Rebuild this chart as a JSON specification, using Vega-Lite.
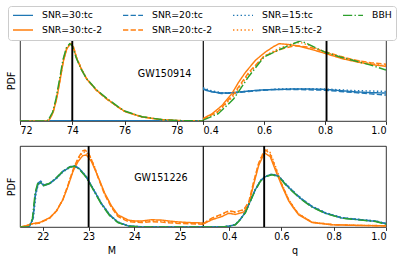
{
"$schema": "https://vega.github.io/schema/vega-lite/v6.json",
"padding": {"left": 6, "top": 5, "right": 5, "bottom": 5},
"config": {
  "font": "DejaVu Sans",
  "view": {"stroke": "black", "strokeWidth": 0.8},
  "axis": {"domain": false, "grid": false, "tickColor": "black", "tickSize": 3.4, "tickWidth": 0.8, "labelFontSize": 9.6, "labelColor": "black", "labelPadding": 1.5, "titleFontSize": 9.6, "titleFontWeight": "normal", "titleColor": "black", "titlePadding": 3.5, "labelFont": "DejaVu Sans", "titleFont": "DejaVu Sans"},
  "legend": {"orient": "none", "legendX": -12, "legendY": -34, "direction": "vertical", "columns": 4, "symbolType": "stroke", "symbolSize": 400, "clipHeight": 10, "symbolStrokeWidth": 1.44, "labelFontSize": 9.3, "labelFont": "DejaVu Sans", "labelColor": "black", "labelOffset": 8, "columnPadding": 19, "rowPadding": 4, "padding": 4, "strokeColor": "#cccccc", "fillColor": "white", "cornerRadius": 3}
},
"datasets": {
"vlines": [{"p":"tl","v":74.0},{"p":"tr","v":0.805},{"p":"bl","v":23.0},{"p":"br","v":0.534}],
"labels": [{"p":"tl","x":77.53,"y":0.58,"t":"GW150914"},{"p":"bl","x":24.58,"y":0.6,"t":"GW151226"}],
"curves": [
{"p":"tl","s":"SNR=30:tc","x":72,"y":0.004},{"p":"tl","s":"SNR=30:tc","x":79,"y":0.004},
{"p":"tl","s":"SNR=30:tc-2","x":72,"y":0},{"p":"tl","s":"SNR=30:tc-2","x":73,"y":0},{"p":"tl","s":"SNR=30:tc-2","x":73.1,"y":0.01},{"p":"tl","s":"SNR=30:tc-2","x":73.2,"y":0.06},{"p":"tl","s":"SNR=30:tc-2","x":73.27,"y":0.11},{"p":"tl","s":"SNR=30:tc-2","x":73.4,"y":0.27},{"p":"tl","s":"SNR=30:tc-2","x":73.53,"y":0.5},{"p":"tl","s":"SNR=30:tc-2","x":73.66,"y":0.74},{"p":"tl","s":"SNR=30:tc-2","x":73.79,"y":0.89},{"p":"tl","s":"SNR=30:tc-2","x":73.92,"y":0.95},{"p":"tl","s":"SNR=30:tc-2","x":73.97,"y":0.955},{"p":"tl","s":"SNR=30:tc-2","x":74.04,"y":0.91},{"p":"tl","s":"SNR=30:tc-2","x":74.17,"y":0.77},{"p":"tl","s":"SNR=30:tc-2","x":74.36,"y":0.63},{"p":"tl","s":"SNR=30:tc-2","x":74.55,"y":0.52},{"p":"tl","s":"SNR=30:tc-2","x":74.93,"y":0.38},{"p":"tl","s":"SNR=30:tc-2","x":75.32,"y":0.275},{"p":"tl","s":"SNR=30:tc-2","x":75.76,"y":0.17},{"p":"tl","s":"SNR=30:tc-2","x":76.03,"y":0.115},{"p":"tl","s":"SNR=30:tc-2","x":76.67,"y":0.05},{"p":"tl","s":"SNR=30:tc-2","x":77.42,"y":0.016},{"p":"tl","s":"SNR=30:tc-2","x":78,"y":0.005},{"p":"tl","s":"SNR=30:tc-2","x":79,"y":0},
{"p":"tl","s":"SNR=20:tc","x":72,"y":0.003},{"p":"tl","s":"SNR=20:tc","x":79,"y":0.003},
{"p":"tl","s":"SNR=20:tc-2","x":72,"y":0},{"p":"tl","s":"SNR=20:tc-2","x":73.02,"y":0},{"p":"tl","s":"SNR=20:tc-2","x":73.12,"y":0.015},{"p":"tl","s":"SNR=20:tc-2","x":73.27,"y":0.115},{"p":"tl","s":"SNR=20:tc-2","x":73.4,"y":0.28},{"p":"tl","s":"SNR=20:tc-2","x":73.53,"y":0.51},{"p":"tl","s":"SNR=20:tc-2","x":73.66,"y":0.75},{"p":"tl","s":"SNR=20:tc-2","x":73.79,"y":0.9},{"p":"tl","s":"SNR=20:tc-2","x":73.92,"y":0.955},{"p":"tl","s":"SNR=20:tc-2","x":74.04,"y":0.915},{"p":"tl","s":"SNR=20:tc-2","x":74.17,"y":0.775},{"p":"tl","s":"SNR=20:tc-2","x":74.36,"y":0.635},{"p":"tl","s":"SNR=20:tc-2","x":74.55,"y":0.52},{"p":"tl","s":"SNR=20:tc-2","x":74.93,"y":0.375},{"p":"tl","s":"SNR=20:tc-2","x":75.32,"y":0.27},{"p":"tl","s":"SNR=20:tc-2","x":75.76,"y":0.17},{"p":"tl","s":"SNR=20:tc-2","x":76.03,"y":0.115},{"p":"tl","s":"SNR=20:tc-2","x":76.67,"y":0.052},{"p":"tl","s":"SNR=20:tc-2","x":77.42,"y":0.017},{"p":"tl","s":"SNR=20:tc-2","x":78,"y":0.006},{"p":"tl","s":"SNR=20:tc-2","x":79,"y":0},
{"p":"tl","s":"SNR=15:tc","x":72,"y":0.005},{"p":"tl","s":"SNR=15:tc","x":79,"y":0.005},
{"p":"tl","s":"SNR=15:tc-2","x":72,"y":0},{"p":"tl","s":"SNR=15:tc-2","x":73.01,"y":0},{"p":"tl","s":"SNR=15:tc-2","x":73.11,"y":0.012},{"p":"tl","s":"SNR=15:tc-2","x":73.26,"y":0.11},{"p":"tl","s":"SNR=15:tc-2","x":73.39,"y":0.275},{"p":"tl","s":"SNR=15:tc-2","x":73.52,"y":0.5},{"p":"tl","s":"SNR=15:tc-2","x":73.65,"y":0.75},{"p":"tl","s":"SNR=15:tc-2","x":73.78,"y":0.9},{"p":"tl","s":"SNR=15:tc-2","x":73.93,"y":0.96},{"p":"tl","s":"SNR=15:tc-2","x":74.04,"y":0.92},{"p":"tl","s":"SNR=15:tc-2","x":74.17,"y":0.78},{"p":"tl","s":"SNR=15:tc-2","x":74.36,"y":0.64},{"p":"tl","s":"SNR=15:tc-2","x":74.55,"y":0.525},{"p":"tl","s":"SNR=15:tc-2","x":74.93,"y":0.38},{"p":"tl","s":"SNR=15:tc-2","x":75.32,"y":0.272},{"p":"tl","s":"SNR=15:tc-2","x":75.76,"y":0.168},{"p":"tl","s":"SNR=15:tc-2","x":76.03,"y":0.113},{"p":"tl","s":"SNR=15:tc-2","x":76.67,"y":0.05},{"p":"tl","s":"SNR=15:tc-2","x":77.42,"y":0.016},{"p":"tl","s":"SNR=15:tc-2","x":78,"y":0.005},{"p":"tl","s":"SNR=15:tc-2","x":79,"y":0},
{"p":"tl","s":"BBH","x":72,"y":0},{"p":"tl","s":"BBH","x":73,"y":0},{"p":"tl","s":"BBH","x":73.08,"y":0.01},{"p":"tl","s":"BBH","x":73.25,"y":0.11},{"p":"tl","s":"BBH","x":73.38,"y":0.28},{"p":"tl","s":"BBH","x":73.51,"y":0.51},{"p":"tl","s":"BBH","x":73.64,"y":0.75},{"p":"tl","s":"BBH","x":73.77,"y":0.9},{"p":"tl","s":"BBH","x":73.9,"y":0.955},{"p":"tl","s":"BBH","x":74.0,"y":0.93},{"p":"tl","s":"BBH","x":74.15,"y":0.78},{"p":"tl","s":"BBH","x":74.34,"y":0.64},{"p":"tl","s":"BBH","x":74.55,"y":0.52},{"p":"tl","s":"BBH","x":74.93,"y":0.385},{"p":"tl","s":"BBH","x":75.32,"y":0.28},{"p":"tl","s":"BBH","x":75.76,"y":0.175},{"p":"tl","s":"BBH","x":76.03,"y":0.12},{"p":"tl","s":"BBH","x":76.67,"y":0.052},{"p":"tl","s":"BBH","x":77.42,"y":0.018},{"p":"tl","s":"BBH","x":78,"y":0.006},{"p":"tl","s":"BBH","x":79,"y":0},

{"p":"tr","s":"SNR=30:tc","x":0.4,"y":0.39},{"p":"tr","s":"SNR=30:tc","x":0.43,"y":0.36},{"p":"tr","s":"SNR=30:tc","x":0.46,"y":0.345},{"p":"tr","s":"SNR=30:tc","x":0.5,"y":0.35},{"p":"tr","s":"SNR=30:tc","x":0.55,"y":0.37},{"p":"tr","s":"SNR=30:tc","x":0.6,"y":0.385},{"p":"tr","s":"SNR=30:tc","x":0.65,"y":0.39},{"p":"tr","s":"SNR=30:tc","x":0.7,"y":0.395},{"p":"tr","s":"SNR=30:tc","x":0.75,"y":0.395},{"p":"tr","s":"SNR=30:tc","x":0.8,"y":0.39},{"p":"tr","s":"SNR=30:tc","x":0.85,"y":0.375},{"p":"tr","s":"SNR=30:tc","x":0.9,"y":0.36},{"p":"tr","s":"SNR=30:tc","x":0.95,"y":0.35},{"p":"tr","s":"SNR=30:tc","x":1.0,"y":0.345},
{"p":"tr","s":"SNR=30:tc-2","x":0.4,"y":0.03},{"p":"tr","s":"SNR=30:tc-2","x":0.43,"y":0.09},{"p":"tr","s":"SNR=30:tc-2","x":0.462,"y":0.19},{"p":"tr","s":"SNR=30:tc-2","x":0.495,"y":0.34},{"p":"tr","s":"SNR=30:tc-2","x":0.517,"y":0.48},{"p":"tr","s":"SNR=30:tc-2","x":0.539,"y":0.6},{"p":"tr","s":"SNR=30:tc-2","x":0.572,"y":0.75},{"p":"tr","s":"SNR=30:tc-2","x":0.604,"y":0.85},{"p":"tr","s":"SNR=30:tc-2","x":0.632,"y":0.92},{"p":"tr","s":"SNR=30:tc-2","x":0.65,"y":0.955},{"p":"tr","s":"SNR=30:tc-2","x":0.68,"y":0.945},{"p":"tr","s":"SNR=30:tc-2","x":0.714,"y":0.925},{"p":"tr","s":"SNR=30:tc-2","x":0.75,"y":0.89},{"p":"tr","s":"SNR=30:tc-2","x":0.8,"y":0.835},{"p":"tr","s":"SNR=30:tc-2","x":0.856,"y":0.77},{"p":"tr","s":"SNR=30:tc-2","x":0.91,"y":0.725},{"p":"tr","s":"SNR=30:tc-2","x":0.965,"y":0.69},{"p":"tr","s":"SNR=30:tc-2","x":1.0,"y":0.675},
{"p":"tr","s":"SNR=20:tc","x":0.4,"y":0.4},{"p":"tr","s":"SNR=20:tc","x":0.43,"y":0.36},{"p":"tr","s":"SNR=20:tc","x":0.46,"y":0.34},{"p":"tr","s":"SNR=20:tc","x":0.5,"y":0.345},{"p":"tr","s":"SNR=20:tc","x":0.55,"y":0.365},{"p":"tr","s":"SNR=20:tc","x":0.6,"y":0.38},{"p":"tr","s":"SNR=20:tc","x":0.65,"y":0.39},{"p":"tr","s":"SNR=20:tc","x":0.7,"y":0.39},{"p":"tr","s":"SNR=20:tc","x":0.75,"y":0.385},{"p":"tr","s":"SNR=20:tc","x":0.8,"y":0.38},{"p":"tr","s":"SNR=20:tc","x":0.85,"y":0.365},{"p":"tr","s":"SNR=20:tc","x":0.9,"y":0.35},{"p":"tr","s":"SNR=20:tc","x":0.95,"y":0.335},{"p":"tr","s":"SNR=20:tc","x":1.0,"y":0.32},
{"p":"tr","s":"SNR=20:tc-2","x":0.4,"y":0.02},{"p":"tr","s":"SNR=20:tc-2","x":0.45,"y":0.12},{"p":"tr","s":"SNR=20:tc-2","x":0.5,"y":0.33},{"p":"tr","s":"SNR=20:tc-2","x":0.55,"y":0.6},{"p":"tr","s":"SNR=20:tc-2","x":0.6,"y":0.8},{"p":"tr","s":"SNR=20:tc-2","x":0.65,"y":0.88},{"p":"tr","s":"SNR=20:tc-2","x":0.7,"y":0.93},{"p":"tr","s":"SNR=20:tc-2","x":0.75,"y":0.91},{"p":"tr","s":"SNR=20:tc-2","x":0.8,"y":0.855},{"p":"tr","s":"SNR=20:tc-2","x":0.85,"y":0.8},{"p":"tr","s":"SNR=20:tc-2","x":0.9,"y":0.75},{"p":"tr","s":"SNR=20:tc-2","x":0.95,"y":0.72},{"p":"tr","s":"SNR=20:tc-2","x":1.0,"y":0.7},
{"p":"tr","s":"SNR=15:tc","x":0.4,"y":0.41},{"p":"tr","s":"SNR=15:tc","x":0.43,"y":0.37},{"p":"tr","s":"SNR=15:tc","x":0.46,"y":0.35},{"p":"tr","s":"SNR=15:tc","x":0.5,"y":0.35},{"p":"tr","s":"SNR=15:tc","x":0.55,"y":0.37},{"p":"tr","s":"SNR=15:tc","x":0.6,"y":0.385},{"p":"tr","s":"SNR=15:tc","x":0.65,"y":0.395},{"p":"tr","s":"SNR=15:tc","x":0.7,"y":0.4},{"p":"tr","s":"SNR=15:tc","x":0.75,"y":0.4},{"p":"tr","s":"SNR=15:tc","x":0.8,"y":0.395},{"p":"tr","s":"SNR=15:tc","x":0.85,"y":0.385},{"p":"tr","s":"SNR=15:tc","x":0.9,"y":0.375},{"p":"tr","s":"SNR=15:tc","x":0.95,"y":0.37},{"p":"tr","s":"SNR=15:tc","x":1.0,"y":0.365},
{"p":"tr","s":"SNR=15:tc-2","x":0.4,"y":0.02},{"p":"tr","s":"SNR=15:tc-2","x":0.45,"y":0.11},{"p":"tr","s":"SNR=15:tc-2","x":0.5,"y":0.31},{"p":"tr","s":"SNR=15:tc-2","x":0.55,"y":0.58},{"p":"tr","s":"SNR=15:tc-2","x":0.6,"y":0.8},{"p":"tr","s":"SNR=15:tc-2","x":0.65,"y":0.9},{"p":"tr","s":"SNR=15:tc-2","x":0.7,"y":0.96},{"p":"tr","s":"SNR=15:tc-2","x":0.72,"y":0.97},{"p":"tr","s":"SNR=15:tc-2","x":0.75,"y":0.93},{"p":"tr","s":"SNR=15:tc-2","x":0.8,"y":0.85},{"p":"tr","s":"SNR=15:tc-2","x":0.85,"y":0.79},{"p":"tr","s":"SNR=15:tc-2","x":0.9,"y":0.75},{"p":"tr","s":"SNR=15:tc-2","x":0.95,"y":0.71},{"p":"tr","s":"SNR=15:tc-2","x":1.0,"y":0.68},
{"p":"tr","s":"BBH","x":0.4,"y":0.01},{"p":"tr","s":"BBH","x":0.45,"y":0.09},{"p":"tr","s":"BBH","x":0.5,"y":0.27},{"p":"tr","s":"BBH","x":0.55,"y":0.55},{"p":"tr","s":"BBH","x":0.6,"y":0.79},{"p":"tr","s":"BBH","x":0.65,"y":0.88},{"p":"tr","s":"BBH","x":0.7,"y":0.96},{"p":"tr","s":"BBH","x":0.72,"y":0.99},{"p":"tr","s":"BBH","x":0.75,"y":0.94},{"p":"tr","s":"BBH","x":0.8,"y":0.85},{"p":"tr","s":"BBH","x":0.85,"y":0.79},{"p":"tr","s":"BBH","x":0.9,"y":0.74},{"p":"tr","s":"BBH","x":0.95,"y":0.69},{"p":"tr","s":"BBH","x":1.0,"y":0.63},

{"p":"bl","s":"SNR=30:tc","x":21.5,"y":0},{"p":"bl","s":"SNR=30:tc","x":21.7,"y":0},{"p":"bl","s":"SNR=30:tc","x":21.78,"y":0.1},{"p":"bl","s":"SNR=30:tc","x":21.84,"y":0.41},{"p":"bl","s":"SNR=30:tc","x":21.89,"y":0.52},{"p":"bl","s":"SNR=30:tc","x":21.95,"y":0.55},{"p":"bl","s":"SNR=30:tc","x":22.02,"y":0.51},{"p":"bl","s":"SNR=30:tc","x":22.15,"y":0.535},{"p":"bl","s":"SNR=30:tc","x":22.3,"y":0.605},{"p":"bl","s":"SNR=30:tc","x":22.44,"y":0.685},{"p":"bl","s":"SNR=30:tc","x":22.59,"y":0.74},{"p":"bl","s":"SNR=30:tc","x":22.7,"y":0.755},{"p":"bl","s":"SNR=30:tc","x":22.8,"y":0.72},{"p":"bl","s":"SNR=30:tc","x":22.95,"y":0.62},{"p":"bl","s":"SNR=30:tc","x":23.1,"y":0.47},{"p":"bl","s":"SNR=30:tc","x":23.28,"y":0.29},{"p":"bl","s":"SNR=30:tc","x":23.46,"y":0.15},{"p":"bl","s":"SNR=30:tc","x":23.64,"y":0.06},{"p":"bl","s":"SNR=30:tc","x":23.87,"y":0.012},{"p":"bl","s":"SNR=30:tc","x":24.2,"y":0},{"p":"bl","s":"SNR=30:tc","x":25.5,"y":0},
{"p":"bl","s":"SNR=30:tc-2","x":21.5,"y":0},{"p":"bl","s":"SNR=30:tc-2","x":21.6,"y":0.01},{"p":"bl","s":"SNR=30:tc-2","x":21.76,"y":0.04},{"p":"bl","s":"SNR=30:tc-2","x":21.93,"y":0.055},{"p":"bl","s":"SNR=30:tc-2","x":22.15,"y":0.115},{"p":"bl","s":"SNR=30:tc-2","x":22.3,"y":0.2},{"p":"bl","s":"SNR=30:tc-2","x":22.44,"y":0.34},{"p":"bl","s":"SNR=30:tc-2","x":22.55,"y":0.505},{"p":"bl","s":"SNR=30:tc-2","x":22.66,"y":0.69},{"p":"bl","s":"SNR=30:tc-2","x":22.77,"y":0.81},{"p":"bl","s":"SNR=30:tc-2","x":22.87,"y":0.88},{"p":"bl","s":"SNR=30:tc-2","x":22.95,"y":0.89},{"p":"bl","s":"SNR=30:tc-2","x":23.06,"y":0.81},{"p":"bl","s":"SNR=30:tc-2","x":23.2,"y":0.63},{"p":"bl","s":"SNR=30:tc-2","x":23.35,"y":0.42},{"p":"bl","s":"SNR=30:tc-2","x":23.5,"y":0.26},{"p":"bl","s":"SNR=30:tc-2","x":23.64,"y":0.15},{"p":"bl","s":"SNR=30:tc-2","x":23.87,"y":0.085},{"p":"bl","s":"SNR=30:tc-2","x":24.0,"y":0.075},{"p":"bl","s":"SNR=30:tc-2","x":24.16,"y":0.075},{"p":"bl","s":"SNR=30:tc-2","x":24.38,"y":0.09},{"p":"bl","s":"SNR=30:tc-2","x":24.6,"y":0.085},{"p":"bl","s":"SNR=30:tc-2","x":24.9,"y":0.065},{"p":"bl","s":"SNR=30:tc-2","x":25.2,"y":0.055},{"p":"bl","s":"SNR=30:tc-2","x":25.5,"y":0.05},
{"p":"bl","s":"SNR=20:tc","x":21.5,"y":0},{"p":"bl","s":"SNR=20:tc","x":21.7,"y":0},{"p":"bl","s":"SNR=20:tc","x":21.78,"y":0.1},{"p":"bl","s":"SNR=20:tc","x":21.84,"y":0.42},{"p":"bl","s":"SNR=20:tc","x":21.89,"y":0.54},{"p":"bl","s":"SNR=20:tc","x":21.95,"y":0.565},{"p":"bl","s":"SNR=20:tc","x":22.02,"y":0.52},{"p":"bl","s":"SNR=20:tc","x":22.15,"y":0.54},{"p":"bl","s":"SNR=20:tc","x":22.3,"y":0.61},{"p":"bl","s":"SNR=20:tc","x":22.44,"y":0.69},{"p":"bl","s":"SNR=20:tc","x":22.59,"y":0.745},{"p":"bl","s":"SNR=20:tc","x":22.68,"y":0.755},{"p":"bl","s":"SNR=20:tc","x":22.8,"y":0.715},{"p":"bl","s":"SNR=20:tc","x":22.95,"y":0.615},{"p":"bl","s":"SNR=20:tc","x":23.1,"y":0.465},{"p":"bl","s":"SNR=20:tc","x":23.28,"y":0.285},{"p":"bl","s":"SNR=20:tc","x":23.46,"y":0.145},{"p":"bl","s":"SNR=20:tc","x":23.64,"y":0.058},{"p":"bl","s":"SNR=20:tc","x":23.87,"y":0.012},{"p":"bl","s":"SNR=20:tc","x":24.2,"y":0},{"p":"bl","s":"SNR=20:tc","x":25.5,"y":0},
{"p":"bl","s":"SNR=20:tc-2","x":21.5,"y":0},{"p":"bl","s":"SNR=20:tc-2","x":21.6,"y":0.01},{"p":"bl","s":"SNR=20:tc-2","x":21.76,"y":0.035},{"p":"bl","s":"SNR=20:tc-2","x":21.93,"y":0.05},{"p":"bl","s":"SNR=20:tc-2","x":22.15,"y":0.11},{"p":"bl","s":"SNR=20:tc-2","x":22.3,"y":0.2},{"p":"bl","s":"SNR=20:tc-2","x":22.44,"y":0.345},{"p":"bl","s":"SNR=20:tc-2","x":22.55,"y":0.52},{"p":"bl","s":"SNR=20:tc-2","x":22.66,"y":0.71},{"p":"bl","s":"SNR=20:tc-2","x":22.77,"y":0.85},{"p":"bl","s":"SNR=20:tc-2","x":22.87,"y":0.94},{"p":"bl","s":"SNR=20:tc-2","x":22.92,"y":0.95},{"p":"bl","s":"SNR=20:tc-2","x":23.0,"y":0.91},{"p":"bl","s":"SNR=20:tc-2","x":23.1,"y":0.78},{"p":"bl","s":"SNR=20:tc-2","x":23.2,"y":0.62},{"p":"bl","s":"SNR=20:tc-2","x":23.35,"y":0.4},{"p":"bl","s":"SNR=20:tc-2","x":23.5,"y":0.24},{"p":"bl","s":"SNR=20:tc-2","x":23.64,"y":0.13},{"p":"bl","s":"SNR=20:tc-2","x":23.87,"y":0.065},{"p":"bl","s":"SNR=20:tc-2","x":24.16,"y":0.055},{"p":"bl","s":"SNR=20:tc-2","x":24.38,"y":0.065},{"p":"bl","s":"SNR=20:tc-2","x":24.6,"y":0.06},{"p":"bl","s":"SNR=20:tc-2","x":24.9,"y":0.045},{"p":"bl","s":"SNR=20:tc-2","x":25.2,"y":0.04},{"p":"bl","s":"SNR=20:tc-2","x":25.5,"y":0.035},
{"p":"bl","s":"SNR=15:tc","x":21.5,"y":0},{"p":"bl","s":"SNR=15:tc","x":21.7,"y":0},{"p":"bl","s":"SNR=15:tc","x":21.79,"y":0.1},{"p":"bl","s":"SNR=15:tc","x":21.85,"y":0.41},{"p":"bl","s":"SNR=15:tc","x":21.9,"y":0.53},{"p":"bl","s":"SNR=15:tc","x":21.96,"y":0.56},{"p":"bl","s":"SNR=15:tc","x":22.03,"y":0.515},{"p":"bl","s":"SNR=15:tc","x":22.15,"y":0.535},{"p":"bl","s":"SNR=15:tc","x":22.3,"y":0.6},{"p":"bl","s":"SNR=15:tc","x":22.44,"y":0.68},{"p":"bl","s":"SNR=15:tc","x":22.59,"y":0.735},{"p":"bl","s":"SNR=15:tc","x":22.69,"y":0.75},{"p":"bl","s":"SNR=15:tc","x":22.8,"y":0.72},{"p":"bl","s":"SNR=15:tc","x":22.95,"y":0.625},{"p":"bl","s":"SNR=15:tc","x":23.1,"y":0.475},{"p":"bl","s":"SNR=15:tc","x":23.28,"y":0.295},{"p":"bl","s":"SNR=15:tc","x":23.46,"y":0.155},{"p":"bl","s":"SNR=15:tc","x":23.64,"y":0.062},{"p":"bl","s":"SNR=15:tc","x":23.87,"y":0.014},{"p":"bl","s":"SNR=15:tc","x":24.2,"y":0},{"p":"bl","s":"SNR=15:tc","x":25.5,"y":0},
{"p":"bl","s":"SNR=15:tc-2","x":21.5,"y":0},{"p":"bl","s":"SNR=15:tc-2","x":21.6,"y":0.01},{"p":"bl","s":"SNR=15:tc-2","x":21.76,"y":0.038},{"p":"bl","s":"SNR=15:tc-2","x":21.93,"y":0.052},{"p":"bl","s":"SNR=15:tc-2","x":22.15,"y":0.112},{"p":"bl","s":"SNR=15:tc-2","x":22.3,"y":0.2},{"p":"bl","s":"SNR=15:tc-2","x":22.44,"y":0.342},{"p":"bl","s":"SNR=15:tc-2","x":22.55,"y":0.515},{"p":"bl","s":"SNR=15:tc-2","x":22.66,"y":0.7},{"p":"bl","s":"SNR=15:tc-2","x":22.77,"y":0.84},{"p":"bl","s":"SNR=15:tc-2","x":22.87,"y":0.92},{"p":"bl","s":"SNR=15:tc-2","x":22.93,"y":0.93},{"p":"bl","s":"SNR=15:tc-2","x":23.02,"y":0.88},{"p":"bl","s":"SNR=15:tc-2","x":23.12,"y":0.76},{"p":"bl","s":"SNR=15:tc-2","x":23.2,"y":0.625},{"p":"bl","s":"SNR=15:tc-2","x":23.35,"y":0.41},{"p":"bl","s":"SNR=15:tc-2","x":23.5,"y":0.25},{"p":"bl","s":"SNR=15:tc-2","x":23.64,"y":0.14},{"p":"bl","s":"SNR=15:tc-2","x":23.87,"y":0.075},{"p":"bl","s":"SNR=15:tc-2","x":24.16,"y":0.065},{"p":"bl","s":"SNR=15:tc-2","x":24.38,"y":0.078},{"p":"bl","s":"SNR=15:tc-2","x":24.6,"y":0.072},{"p":"bl","s":"SNR=15:tc-2","x":24.9,"y":0.055},{"p":"bl","s":"SNR=15:tc-2","x":25.2,"y":0.048},{"p":"bl","s":"SNR=15:tc-2","x":25.5,"y":0.042},
{"p":"bl","s":"BBH","x":21.5,"y":0},{"p":"bl","s":"BBH","x":21.7,"y":0},{"p":"bl","s":"BBH","x":21.77,"y":0.1},{"p":"bl","s":"BBH","x":21.83,"y":0.42},{"p":"bl","s":"BBH","x":21.88,"y":0.53},{"p":"bl","s":"BBH","x":21.94,"y":0.555},{"p":"bl","s":"BBH","x":22.01,"y":0.51},{"p":"bl","s":"BBH","x":22.15,"y":0.54},{"p":"bl","s":"BBH","x":22.3,"y":0.61},{"p":"bl","s":"BBH","x":22.44,"y":0.69},{"p":"bl","s":"BBH","x":22.59,"y":0.74},{"p":"bl","s":"BBH","x":22.7,"y":0.75},{"p":"bl","s":"BBH","x":22.8,"y":0.71},{"p":"bl","s":"BBH","x":22.95,"y":0.61},{"p":"bl","s":"BBH","x":23.1,"y":0.46},{"p":"bl","s":"BBH","x":23.28,"y":0.28},{"p":"bl","s":"BBH","x":23.46,"y":0.14},{"p":"bl","s":"BBH","x":23.64,"y":0.055},{"p":"bl","s":"BBH","x":23.87,"y":0.01},{"p":"bl","s":"BBH","x":24.2,"y":0},{"p":"bl","s":"BBH","x":25.5,"y":0},

{"p":"br","s":"SNR=30:tc","x":0.3,"y":0},{"p":"br","s":"SNR=30:tc","x":0.38,"y":0.003},{"p":"br","s":"SNR=30:tc","x":0.4,"y":0.01},{"p":"br","s":"SNR=30:tc","x":0.424,"y":0.03},{"p":"br","s":"SNR=30:tc","x":0.443,"y":0.095},{"p":"br","s":"SNR=30:tc","x":0.462,"y":0.18},{"p":"br","s":"SNR=30:tc","x":0.481,"y":0.32},{"p":"br","s":"SNR=30:tc","x":0.5,"y":0.46},{"p":"br","s":"SNR=30:tc","x":0.52,"y":0.57},{"p":"br","s":"SNR=30:tc","x":0.538,"y":0.62},{"p":"br","s":"SNR=30:tc","x":0.564,"y":0.65},{"p":"br","s":"SNR=30:tc","x":0.59,"y":0.625},{"p":"br","s":"SNR=30:tc","x":0.615,"y":0.53},{"p":"br","s":"SNR=30:tc","x":0.64,"y":0.45},{"p":"br","s":"SNR=30:tc","x":0.66,"y":0.39},{"p":"br","s":"SNR=30:tc","x":0.68,"y":0.335},{"p":"br","s":"SNR=30:tc","x":0.717,"y":0.25},{"p":"br","s":"SNR=30:tc","x":0.768,"y":0.17},{"p":"br","s":"SNR=30:tc","x":0.832,"y":0.11},{"p":"br","s":"SNR=30:tc","x":0.896,"y":0.09},{"p":"br","s":"SNR=30:tc","x":0.96,"y":0.07},{"p":"br","s":"SNR=30:tc","x":1.0,"y":0.04},
{"p":"br","s":"SNR=30:tc-2","x":0.3,"y":0.035},{"p":"br","s":"SNR=30:tc-2","x":0.334,"y":0.09},{"p":"br","s":"SNR=30:tc-2","x":0.373,"y":0.13},{"p":"br","s":"SNR=30:tc-2","x":0.398,"y":0.17},{"p":"br","s":"SNR=30:tc-2","x":0.424,"y":0.155},{"p":"br","s":"SNR=30:tc-2","x":0.456,"y":0.185},{"p":"br","s":"SNR=30:tc-2","x":0.475,"y":0.28},{"p":"br","s":"SNR=30:tc-2","x":0.494,"y":0.53},{"p":"br","s":"SNR=30:tc-2","x":0.513,"y":0.76},{"p":"br","s":"SNR=30:tc-2","x":0.53,"y":0.88},{"p":"br","s":"SNR=30:tc-2","x":0.538,"y":0.91},{"p":"br","s":"SNR=30:tc-2","x":0.557,"y":0.87},{"p":"br","s":"SNR=30:tc-2","x":0.576,"y":0.71},{"p":"br","s":"SNR=30:tc-2","x":0.602,"y":0.505},{"p":"br","s":"SNR=30:tc-2","x":0.628,"y":0.32},{"p":"br","s":"SNR=30:tc-2","x":0.645,"y":0.24},{"p":"br","s":"SNR=30:tc-2","x":0.666,"y":0.15},{"p":"br","s":"SNR=30:tc-2","x":0.717,"y":0.055},{"p":"br","s":"SNR=30:tc-2","x":0.793,"y":0.027},{"p":"br","s":"SNR=30:tc-2","x":0.9,"y":0.018},{"p":"br","s":"SNR=30:tc-2","x":1.0,"y":0.015},
{"p":"br","s":"SNR=20:tc","x":0.3,"y":0},{"p":"br","s":"SNR=20:tc","x":0.38,"y":0.003},{"p":"br","s":"SNR=20:tc","x":0.4,"y":0.011},{"p":"br","s":"SNR=20:tc","x":0.424,"y":0.032},{"p":"br","s":"SNR=20:tc","x":0.443,"y":0.097},{"p":"br","s":"SNR=20:tc","x":0.462,"y":0.182},{"p":"br","s":"SNR=20:tc","x":0.481,"y":0.322},{"p":"br","s":"SNR=20:tc","x":0.5,"y":0.462},{"p":"br","s":"SNR=20:tc","x":0.52,"y":0.572},{"p":"br","s":"SNR=20:tc","x":0.538,"y":0.625},{"p":"br","s":"SNR=20:tc","x":0.564,"y":0.652},{"p":"br","s":"SNR=20:tc","x":0.59,"y":0.628},{"p":"br","s":"SNR=20:tc","x":0.615,"y":0.535},{"p":"br","s":"SNR=20:tc","x":0.64,"y":0.455},{"p":"br","s":"SNR=20:tc","x":0.66,"y":0.395},{"p":"br","s":"SNR=20:tc","x":0.68,"y":0.34},{"p":"br","s":"SNR=20:tc","x":0.717,"y":0.255},{"p":"br","s":"SNR=20:tc","x":0.768,"y":0.175},{"p":"br","s":"SNR=20:tc","x":0.832,"y":0.112},{"p":"br","s":"SNR=20:tc","x":0.896,"y":0.092},{"p":"br","s":"SNR=20:tc","x":0.96,"y":0.072},{"p":"br","s":"SNR=20:tc","x":1.0,"y":0.042},
{"p":"br","s":"SNR=20:tc-2","x":0.3,"y":0.04},{"p":"br","s":"SNR=20:tc-2","x":0.334,"y":0.11},{"p":"br","s":"SNR=20:tc-2","x":0.373,"y":0.16},{"p":"br","s":"SNR=20:tc-2","x":0.398,"y":0.2},{"p":"br","s":"SNR=20:tc-2","x":0.424,"y":0.185},{"p":"br","s":"SNR=20:tc-2","x":0.456,"y":0.215},{"p":"br","s":"SNR=20:tc-2","x":0.475,"y":0.31},{"p":"br","s":"SNR=20:tc-2","x":0.494,"y":0.56},{"p":"br","s":"SNR=20:tc-2","x":0.513,"y":0.79},{"p":"br","s":"SNR=20:tc-2","x":0.53,"y":0.91},{"p":"br","s":"SNR=20:tc-2","x":0.54,"y":0.95},{"p":"br","s":"SNR=20:tc-2","x":0.557,"y":0.9},{"p":"br","s":"SNR=20:tc-2","x":0.576,"y":0.74},{"p":"br","s":"SNR=20:tc-2","x":0.602,"y":0.52},{"p":"br","s":"SNR=20:tc-2","x":0.628,"y":0.335},{"p":"br","s":"SNR=20:tc-2","x":0.645,"y":0.25},{"p":"br","s":"SNR=20:tc-2","x":0.666,"y":0.16},{"p":"br","s":"SNR=20:tc-2","x":0.717,"y":0.06},{"p":"br","s":"SNR=20:tc-2","x":0.793,"y":0.03},{"p":"br","s":"SNR=20:tc-2","x":0.9,"y":0.02},{"p":"br","s":"SNR=20:tc-2","x":1.0,"y":0.015},
{"p":"br","s":"SNR=15:tc","x":0.3,"y":0},{"p":"br","s":"SNR=15:tc","x":0.38,"y":0.004},{"p":"br","s":"SNR=15:tc","x":0.4,"y":0.012},{"p":"br","s":"SNR=15:tc","x":0.424,"y":0.033},{"p":"br","s":"SNR=15:tc","x":0.443,"y":0.1},{"p":"br","s":"SNR=15:tc","x":0.462,"y":0.185},{"p":"br","s":"SNR=15:tc","x":0.481,"y":0.325},{"p":"br","s":"SNR=15:tc","x":0.5,"y":0.465},{"p":"br","s":"SNR=15:tc","x":0.52,"y":0.575},{"p":"br","s":"SNR=15:tc","x":0.538,"y":0.627},{"p":"br","s":"SNR=15:tc","x":0.564,"y":0.655},{"p":"br","s":"SNR=15:tc","x":0.59,"y":0.63},{"p":"br","s":"SNR=15:tc","x":0.615,"y":0.538},{"p":"br","s":"SNR=15:tc","x":0.64,"y":0.458},{"p":"br","s":"SNR=15:tc","x":0.66,"y":0.398},{"p":"br","s":"SNR=15:tc","x":0.68,"y":0.343},{"p":"br","s":"SNR=15:tc","x":0.717,"y":0.258},{"p":"br","s":"SNR=15:tc","x":0.768,"y":0.178},{"p":"br","s":"SNR=15:tc","x":0.832,"y":0.115},{"p":"br","s":"SNR=15:tc","x":0.896,"y":0.095},{"p":"br","s":"SNR=15:tc","x":0.96,"y":0.075},{"p":"br","s":"SNR=15:tc","x":1.0,"y":0.045},
{"p":"br","s":"SNR=15:tc-2","x":0.3,"y":0.04},{"p":"br","s":"SNR=15:tc-2","x":0.334,"y":0.105},{"p":"br","s":"SNR=15:tc-2","x":0.373,"y":0.155},{"p":"br","s":"SNR=15:tc-2","x":0.398,"y":0.195},{"p":"br","s":"SNR=15:tc-2","x":0.424,"y":0.18},{"p":"br","s":"SNR=15:tc-2","x":0.456,"y":0.21},{"p":"br","s":"SNR=15:tc-2","x":0.475,"y":0.3},{"p":"br","s":"SNR=15:tc-2","x":0.494,"y":0.55},{"p":"br","s":"SNR=15:tc-2","x":0.513,"y":0.78},{"p":"br","s":"SNR=15:tc-2","x":0.53,"y":0.91},{"p":"br","s":"SNR=15:tc-2","x":0.542,"y":0.96},{"p":"br","s":"SNR=15:tc-2","x":0.557,"y":0.92},{"p":"br","s":"SNR=15:tc-2","x":0.576,"y":0.76},{"p":"br","s":"SNR=15:tc-2","x":0.602,"y":0.53},{"p":"br","s":"SNR=15:tc-2","x":0.628,"y":0.34},{"p":"br","s":"SNR=15:tc-2","x":0.645,"y":0.255},{"p":"br","s":"SNR=15:tc-2","x":0.666,"y":0.162},{"p":"br","s":"SNR=15:tc-2","x":0.717,"y":0.06},{"p":"br","s":"SNR=15:tc-2","x":0.793,"y":0.03},{"p":"br","s":"SNR=15:tc-2","x":0.9,"y":0.02},{"p":"br","s":"SNR=15:tc-2","x":1.0,"y":0.016},
{"p":"br","s":"BBH","x":0.3,"y":0},{"p":"br","s":"BBH","x":0.38,"y":0.002},{"p":"br","s":"BBH","x":0.4,"y":0.008},{"p":"br","s":"BBH","x":0.424,"y":0.028},{"p":"br","s":"BBH","x":0.443,"y":0.09},{"p":"br","s":"BBH","x":0.462,"y":0.175},{"p":"br","s":"BBH","x":0.481,"y":0.315},{"p":"br","s":"BBH","x":0.5,"y":0.455},{"p":"br","s":"BBH","x":0.52,"y":0.565},{"p":"br","s":"BBH","x":0.538,"y":0.62},{"p":"br","s":"BBH","x":0.564,"y":0.645},{"p":"br","s":"BBH","x":0.59,"y":0.62},{"p":"br","s":"BBH","x":0.615,"y":0.525},{"p":"br","s":"BBH","x":0.64,"y":0.445},{"p":"br","s":"BBH","x":0.66,"y":0.385},{"p":"br","s":"BBH","x":0.68,"y":0.33},{"p":"br","s":"BBH","x":0.717,"y":0.245},{"p":"br","s":"BBH","x":0.768,"y":0.168},{"p":"br","s":"BBH","x":0.832,"y":0.108},{"p":"br","s":"BBH","x":0.896,"y":0.088},{"p":"br","s":"BBH","x":0.96,"y":0.068},{"p":"br","s":"BBH","x":1.0,"y":0.035}
]
},
"columns": 2,
"spacing": {"row": 25, "column": 0},
"bounds": "flush",
"concat": [
 {"width": 183, "height": 81, "layer": [
   {"data": {"name": "curves"}, "transform": [{"filter": "datum.p === 'tl'"}], "mark": {"type": "line", "strokeWidth": 1.44, "clip": true},
    "encoding": {
      "x": {"field": "x", "type": "quantitative", "scale": {"domain": [72, 79], "nice": false, "zero": false}, "axis": {"values": [72, 74, 76, 78], "title": null}},
      "y": {"field": "y", "type": "quantitative", "scale": {"domain": [0, 1], "nice": false}, "axis": {"title": "PDF", "labels": false, "ticks": false}},
      "color": {"field": "s", "type": "nominal", "title": null, "scale": {"domain": ["SNR=30:tc","SNR=30:tc-2","SNR=20:tc","SNR=20:tc-2","SNR=15:tc","SNR=15:tc-2","BBH"], "range": ["#1f77b4","#ff7f0e","#1f77b4","#ff7f0e","#1f77b4","#ff7f0e","#2ca02c"]}},
      "strokeDash": {"field": "s", "type": "nominal", "title": null, "scale": {"domain": ["SNR=30:tc","SNR=30:tc-2","SNR=20:tc","SNR=20:tc-2","SNR=15:tc","SNR=15:tc-2","BBH"], "range": [[1,0],[1,0],[5.3,2.3],[5.3,2.3],[1.4,2.4],[1.4,2.4],[9.2,2.3,1.4,2.3]]}}
    }},
   {"data": {"name": "vlines"}, "transform": [{"filter": "datum.p === 'tl'"}], "mark": {"type": "rule", "color": "black", "strokeWidth": 1.9}, "encoding": {"x": {"field": "v", "type": "quantitative"}}},
   {"data": {"name": "labels"}, "transform": [{"filter": "datum.p === 'tl'"}], "mark": {"type": "text", "fontSize": 9.6, "color": "black", "align": "center", "baseline": "middle"}, "encoding": {"x": {"field": "x", "type": "quantitative"}, "y": {"field": "y", "type": "quantitative"}, "text": {"field": "t"}}}
 ]},
 {"width": 183, "height": 81, "layer": [
   {"data": {"name": "curves"}, "transform": [{"filter": "datum.p === 'tr'"}], "mark": {"type": "line", "strokeWidth": 1.44, "clip": true},
    "encoding": {
      "x": {"field": "x", "type": "quantitative", "scale": {"domain": [0.4, 1.0], "nice": false, "zero": false}, "axis": {"values": [0.4, 0.6, 0.8, 1.0], "format": ".1f", "title": null}},
      "y": {"field": "y", "type": "quantitative", "scale": {"domain": [0, 1], "nice": false}, "axis": null},
      "color": {"field": "s", "type": "nominal", "title": null},
      "strokeDash": {"field": "s", "type": "nominal", "title": null}
    }},
   {"data": {"name": "vlines"}, "transform": [{"filter": "datum.p === 'tr'"}], "mark": {"type": "rule", "color": "black", "strokeWidth": 1.9}, "encoding": {"x": {"field": "v", "type": "quantitative"}}}
 ]},
 {"width": 183, "height": 81, "layer": [
   {"data": {"name": "curves"}, "transform": [{"filter": "datum.p === 'bl'"}], "mark": {"type": "line", "strokeWidth": 1.44, "clip": true},
    "encoding": {
      "x": {"field": "x", "type": "quantitative", "scale": {"domain": [21.5, 25.5], "nice": false, "zero": false}, "axis": {"values": [22, 23, 24, 25], "title": "M"}},
      "y": {"field": "y", "type": "quantitative", "scale": {"domain": [0, 1], "nice": false}, "axis": {"title": "PDF", "labels": false, "ticks": false}},
      "color": {"field": "s", "type": "nominal", "title": null},
      "strokeDash": {"field": "s", "type": "nominal", "title": null}
    }},
   {"data": {"name": "vlines"}, "transform": [{"filter": "datum.p === 'bl'"}], "mark": {"type": "rule", "color": "black", "strokeWidth": 1.9}, "encoding": {"x": {"field": "v", "type": "quantitative"}}},
   {"data": {"name": "labels"}, "transform": [{"filter": "datum.p === 'bl'"}], "mark": {"type": "text", "fontSize": 9.6, "color": "black", "align": "center", "baseline": "middle"}, "encoding": {"x": {"field": "x", "type": "quantitative"}, "y": {"field": "y", "type": "quantitative"}, "text": {"field": "t"}}}
 ]},
 {"width": 183, "height": 81, "layer": [
   {"data": {"name": "curves"}, "transform": [{"filter": "datum.p === 'br'"}], "mark": {"type": "line", "strokeWidth": 1.44, "clip": true},
    "encoding": {
      "x": {"field": "x", "type": "quantitative", "scale": {"domain": [0.3, 1.0], "nice": false, "zero": false}, "axis": {"values": [0.4, 0.6, 0.8, 1.0], "format": ".1f", "title": "q"}},
      "y": {"field": "y", "type": "quantitative", "scale": {"domain": [0, 1], "nice": false}, "axis": null},
      "color": {"field": "s", "type": "nominal", "title": null},
      "strokeDash": {"field": "s", "type": "nominal", "title": null}
    }},
   {"data": {"name": "vlines"}, "transform": [{"filter": "datum.p === 'br'"}], "mark": {"type": "rule", "color": "black", "strokeWidth": 1.9}, "encoding": {"x": {"field": "v", "type": "quantitative"}}}
 ]}
]
}
